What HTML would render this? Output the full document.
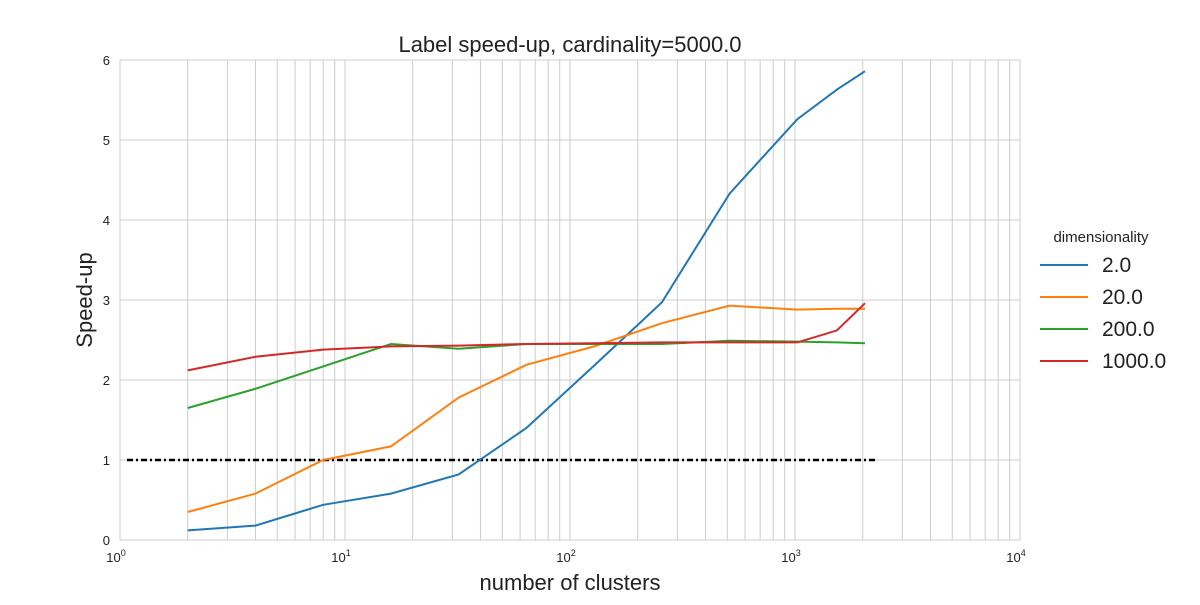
<!DOCTYPE html>
<html><head><meta charset="utf-8"><style>
body{margin:0;background:#fff;font-family:"Liberation Sans",sans-serif}
</style></head><body>
<svg id="chart" width="1200" height="600" xmlns="http://www.w3.org/2000/svg">
<rect width="1200" height="600" fill="#fff"/>
<g id="grid"></g>
<g id="lines"></g>
<g id="axes"></g>
<text x="570" y="52" font-size="22" text-anchor="middle" fill="#222">Label speed-up, cardinality=5000.0</text>
<text x="570" y="590" font-size="22" text-anchor="middle" fill="#222">number of clusters</text>
<text x="92" y="300" font-size="22" text-anchor="middle" fill="#222" transform="rotate(-90 92 300)">Speed-up</text>
<g id="legend"></g>
</svg>
<script>
const xs=[2,4,8,16,32,64,128,256,512,1024,1536,2048];
const seriesNames=["2.0","20.0","200.0","1000.0"];
const colors=["#1f77b4","#ff7f0e","#2ca02c","#d62728"];
const s2=[0.12,0.18,0.44,0.58,0.82,1.40,2.18,2.97,4.33,5.26,5.63,5.86];
const s20=[0.35,0.58,1.00,1.17,1.78,2.19,2.42,2.71,2.93,2.88,2.89,2.89];
const s200=[1.65,1.89,2.17,2.45,2.39,2.45,2.45,2.45,2.49,2.48,2.47,2.46];
const s1000=[2.12,2.29,2.38,2.42,2.43,2.45,2.46,2.47,2.47,2.47,2.62,2.96];
const yTicks=[0,1,2,3,4,5,6];
const xDecades=[0,1,2,3,4];
const baseline=1;
const series=[s2,s20,s200,s1000];
const NS="http://www.w3.org/2000/svg";
const X=v=>120+Math.log10(v)*225, Y=v=>540-v*80;
function mk(tag,parent){const e=document.createElementNS(NS,tag);parent.appendChild(e);return e;}
const grid=document.getElementById('grid');
for(let d=0;d<4;d++)for(let m=1;m<10;m++){const v=Math.pow(10,d)*m;const l=mk('line',grid);


l.setAttribute('x1',X(v));l.setAttribute('x2',X(v));l.setAttribute('y1',60);l.setAttribute('y2',540);l.setAttribute('stroke','#cccccc');l.setAttribute('stroke-width',1);}
yTicks.forEach(t=>{const l=mk('line',grid);


l.setAttribute('x1',120);l.setAttribute('x2',1020);l.setAttribute('y1',Y(t));l.setAttribute('y2',Y(t));l.setAttribute('stroke','#cccccc');
const tx=mk('text',grid);


tx.setAttribute('x',110);tx.setAttribute('y',Y(t)+5);tx.setAttribute('font-size',13);tx.setAttribute('text-anchor','end');tx.setAttribute('fill','#222');tx.textContent=t;});
const fr=mk('rect',grid);


fr.setAttribute('x',120);fr.setAttribute('y',60);fr.setAttribute('width',900);fr.setAttribute('height',480);fr.setAttribute('fill','none');fr.setAttribute('stroke','#cccccc');
xDecades.forEach(d=>{const t=mk('text',grid);


t.setAttribute('x',X(Math.pow(10,d))-4);t.setAttribute('y',562);t.setAttribute('font-size',13);t.setAttribute('text-anchor','middle');t.setAttribute('fill','#222');
t.innerHTML='10<tspan dy="-6" font-size="9">'+d+'</tspan>';});
const lines=document.getElementById('lines');
const bl=mk('line',lines);


bl.setAttribute('x1',127);bl.setAttribute('x2',878);bl.setAttribute('y1',Y(baseline));bl.setAttribute('y2',Y(baseline));bl.setAttribute('stroke','#000');bl.setAttribute('stroke-width',2.5);bl.setAttribute('stroke-dasharray','6 3 2 3');
series.forEach((s,i)=>{const p=mk('polyline',lines);


p.setAttribute('points',s.map((v,j)=>X(xs[j])+','+Y(v)).join(' '));p.setAttribute('fill','none');p.setAttribute('stroke',colors[i]);p.setAttribute('stroke-width',2);});
const lg=document.getElementById('legend');
const lt=mk('text',lg);


lt.setAttribute('x',1101);lt.setAttribute('y',242);lt.setAttribute('font-size',15);lt.setAttribute('text-anchor','middle');lt.setAttribute('fill','#222');lt.textContent='dimensionality';
seriesNames.forEach((n,i)=>{const y=265+i*32;const l=mk('line',lg);


l.setAttribute('x1',1040);l.setAttribute('x2',1088);l.setAttribute('y1',y);l.setAttribute('y2',y);l.setAttribute('stroke',colors[i]);l.setAttribute('stroke-width',2);
const t=mk('text',lg);


t.setAttribute('x',1102);t.setAttribute('y',y+7);t.setAttribute('font-size',21);t.setAttribute('fill','#222');t.textContent=n;});
</script>
</body></html>
